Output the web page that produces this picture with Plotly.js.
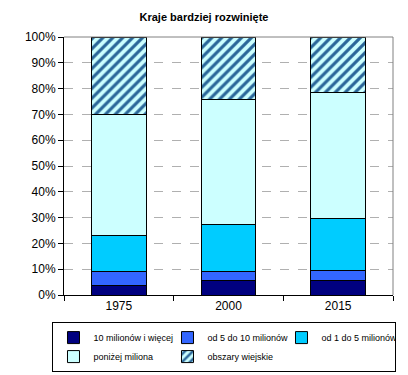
<!DOCTYPE html>
<html><head><meta charset="utf-8">
<script src="https://cdn.plot.ly/plotly-3.0.1.min.js"></script>
<style>html,body{margin:0;padding:0;background:#fff}#chart{width:408px;height:375px}</style>
</head><body><div id="chart"></div>
<script>
var years = ['1975', '2000', '2015'];
var seriesNames = ['10 milionów i więcej', 'od 5 do 10 milionów', 'od 1 do 5 milionów', 'poniżej miliona', 'obszary wiejskie'];
var s10plus = [3.5, 5.8, 5.8];
var s5to10 = [5.7, 3.4, 3.8];
var s1to5 = [14.0, 18.0, 20.0];
var below1 = [46.8, 48.4, 49.0];
var rural = [30.0, 24.4, 21.4];
var yTicks = [0, 10, 20, 30, 40, 50, 60, 70, 80, 90, 100];

var colors = ['#000080', '#3366FF', '#00CCFF', '#CCFFFF', '#CCFFFF'];
var values = [s10plus, s5to10, s1to5, below1, rural];
var traces = values.map(function (v, i) {
  var m = { color: colors[i], line: { color: '#000000', width: 1 } };
  if (i === 4) {
    m.pattern = { shape: '/', fgcolor: '#2A6699', bgcolor: '#CCFFFF', size: 7, solidity: 0.45, fillmode: 'replace' };
  }
  return { type: 'bar', x: years, y: v, name: seriesNames[i], marker: m, width: 0.5, hoverinfo: 'none' };
});

var layout = {
  width: 408, height: 375,
  barmode: 'stack',
  paper_bgcolor: '#ffffff', plot_bgcolor: '#ffffff',
  margin: { l: 64, r: 15, t: 37, b: 80, autoexpand: false },
  font: { family: 'Liberation Sans, Arial, sans-serif', color: '#000000', size: 12 },
  title: { text: '<b>Kraje bardziej rozwinięte</b>', font: { size: 11 }, x: 0.5, xanchor: 'center', y: 0.955, yanchor: 'middle' },
  xaxis: {
    type: 'category', showline: true, linecolor: '#000000', linewidth: 1,
    ticks: 'outside', tickson: 'boundaries', ticklen: 5, tickcolor: '#000000',
    showgrid: false, tickfont: { size: 12 }, mirror: false
  },
  yaxis: {
    range: [0, 100], tickvals: yTicks, ticktext: yTicks.map(function (t) { return t + '%'; }),
    showline: true, linecolor: '#000000', linewidth: 1, ticks: 'outside', ticklen: 5, tickcolor: '#000000',
    showgrid: true, gridcolor: '#b0b0b0', griddash: 'dash', gridwidth: 1, zeroline: false, tickfont: { size: 12 }
  },
  shapes: [
    { type: 'line', xref: 'paper', yref: 'paper', x0: 0, x1: 1, y0: 1, y1: 1, line: { color: '#808080', width: 1 } },
    { type: 'line', xref: 'paper', yref: 'paper', x0: 1, x1: 1, y0: 0, y1: 1, line: { color: '#808080', width: 1 } }
  ],
  legend: {
    orientation: 'h', xref: 'paper', yref: 'paper',
    x: -0.035, xanchor: 'left', y: -0.105, yanchor: 'top',
    bordercolor: '#000000', borderwidth: 1, font: { size: 9 },
    entrywidth: 69, traceorder: 'normal', itemwidth: 30, tracegroupgap: 0
  },
  showlegend: true
};
Plotly.newPlot('chart', traces, layout, { displayModeBar: false, staticPlot: true });
</script></body></html>
